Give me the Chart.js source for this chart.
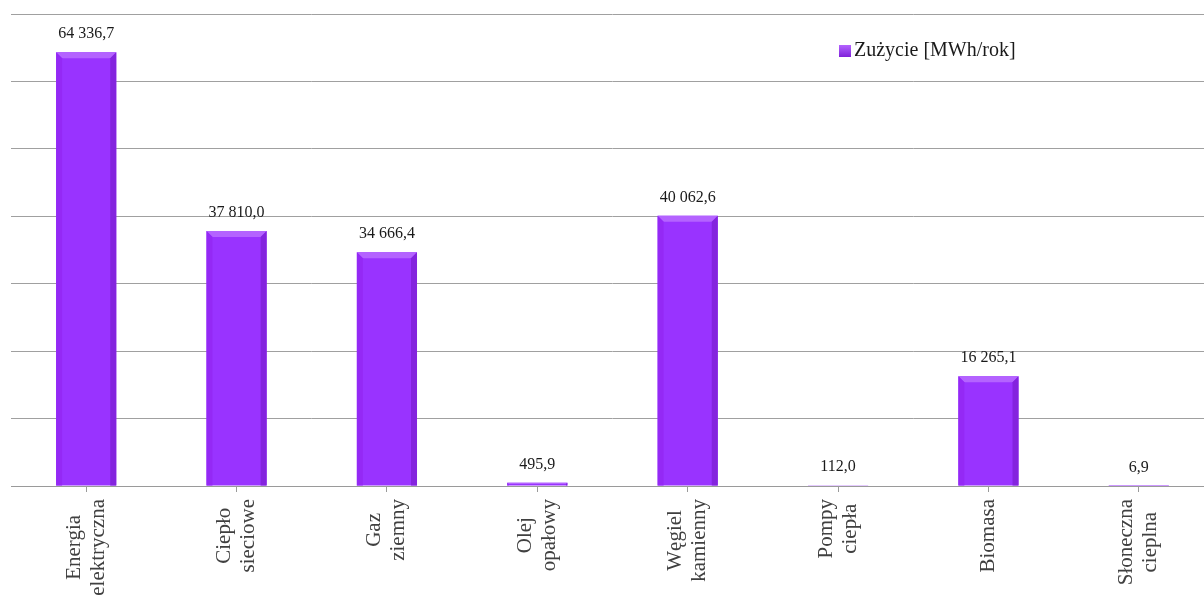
<!DOCTYPE html>
<html>
<head>
<meta charset="utf-8">
<script src="https://cdn.jsdelivr.net/npm/chart.js@4"></script>
<style>
  html, body { margin: 0; padding: 0; background: #ffffff; overflow: hidden; }
  #wrap { width: 1214px; height: 597px; }
</style>
</head>
<body>
<div id="wrap"><canvas id="c" width="1214" height="597"></canvas></div>
<script>
const categories = [
  ["Energia", "elektryczna"],
  ["Ciepło", "sieciowe"],
  ["Gaz", "ziemny"],
  ["Olej", "opałowy"],
  ["Węgiel", "kamienny"],
  ["Pompy", "ciepła"],
  ["Biomasa"],
  ["Słoneczna", "cieplna"]
];
const consumption = [64336.7, 37810.0, 34666.4, 495.9, 40062.6, 112.0, 16265.1, 6.9];
const seriesLabel = "Zużycie [MWh/rok]";
const yMax = 70000;
const yStep = 10000;

const barColor = "#9933ff";
const serif = "'Liberation Serif', 'DejaVu Serif', serif";

function formatPL(v) {
  const fixed = v.toFixed(1);
  const parts = fixed.split(".");
  const intPart = parts[0].replace(/\B(?=(\d{3})+(?!\d))/g, " ");
  return intPart + "," + parts[1];
}

const bevelPlugin = {
  id: "bevel",
  afterDatasetsDraw(chart) {
    const ctx = chart.ctx;
    const meta = chart.getDatasetMeta(0);
    ctx.save();
    meta.data.forEach((bar) => {
      const left = bar.x - bar.width / 2;
      const right = bar.x + bar.width / 2;
      const top = bar.y;
      const bottom = bar.base;
      const h = bottom - top;
      if (h < 1) return;
      const b = Math.min(6, h / 2);
      ctx.fillStyle = "#b463ff";
      ctx.beginPath();
      ctx.moveTo(left, top);
      ctx.lineTo(right, top);
      ctx.lineTo(right - b, top + b);
      ctx.lineTo(left + b, top + b);
      ctx.closePath();
      ctx.fill();
      ctx.fillStyle = "#8424de";
      ctx.beginPath();
      ctx.moveTo(right, top);
      ctx.lineTo(right, bottom);
      ctx.lineTo(right - b, bottom);
      ctx.lineTo(right - b, top + b);
      ctx.closePath();
      ctx.fill();
      ctx.fillStyle = "#9429f5";
      ctx.beginPath();
      ctx.moveTo(left, top);
      ctx.lineTo(left + b, top + b);
      ctx.lineTo(left + b, bottom);
      ctx.lineTo(left, bottom);
      ctx.closePath();
      ctx.fill();
    });
    ctx.restore();
  }
};

const labelsPlugin = {
  id: "labelsAndLegend",
  afterDraw(chart) {
    const ctx = chart.ctx;
    const xScale = chart.scales.x;
    const meta = chart.getDatasetMeta(0);
    ctx.save();
    ctx.font = "16px " + serif;
    ctx.fillStyle = "#1a1a1a";
    ctx.textAlign = "center";
    ctx.textBaseline = "alphabetic";
    meta.data.forEach((bar, i) => {
      ctx.fillText(formatPL(consumption[i]), bar.x, bar.y - 14);
    });
    ctx.font = "21px " + serif;
    ctx.fillStyle = "#404040";
    ctx.textBaseline = "middle";
    ctx.textAlign = "center";
    const startY = xScale.top + 13;
    const lineH = 24;
    categories.forEach((lines, i) => {
      const x = xScale.getPixelForValue(i);
      let maxW = 0;
      lines.forEach((l) => { maxW = Math.max(maxW, ctx.measureText(l).width); });
      ctx.save();
      ctx.translate(x, startY + maxW / 2);
      ctx.rotate(-Math.PI / 2);
      lines.forEach((l, j) => {
        ctx.fillText(l, 0, (j - (lines.length - 1) / 2) * lineH);
      });
      ctx.restore();
    });
    const lx = 839, ly = 45, size = 12;
    const g = ctx.createLinearGradient(0, ly, 0, ly + size);
    g.addColorStop(0, "#b463ff");
    g.addColorStop(1, "#7f22d9");
    ctx.fillStyle = g;
    ctx.fillRect(lx, ly, size, size);
    ctx.fillStyle = "#1a1a1a";
    ctx.font = "20px " + serif;
    ctx.textAlign = "left";
    ctx.textBaseline = "middle";
    ctx.fillText(chart.data.datasets[0].label, lx + size + 3, ly + size / 2);
    ctx.restore();
  }
};

new Chart(document.getElementById("c"), {
  type: "bar",
  data: {
    labels: categories,
    datasets: [{
      label: seriesLabel,
      data: consumption,
      backgroundColor: barColor,
      borderWidth: 0,
      barPercentage: 0.8,
      categoryPercentage: 0.5
    }]
  },
  options: {
    responsive: false,
    animation: false,
    devicePixelRatio: 1,
    layout: { padding: { left: 11, right: 0, top: 14, bottom: 105 } },
    plugins: { legend: { display: false }, tooltip: { enabled: false } },
    scales: {
      x: {
        offset: true,
        grid: {
          offset: false,
          drawOnChartArea: false,
          drawTicks: true,
          tickLength: 6,
          color: "#9a9a9a",
          lineWidth: 1
        },
        border: { display: true, color: "#9a9a9a", width: 1 },
        ticks: { display: false }
      },
      y: {
        min: 0,
        max: yMax,
        ticks: { display: false, stepSize: yStep },
        grid: { color: "#a0a0a0", lineWidth: 1, drawTicks: false },
        border: { display: false }
      }
    }
  },
  plugins: [bevelPlugin, labelsPlugin]
});
</script>
</body>
</html>
